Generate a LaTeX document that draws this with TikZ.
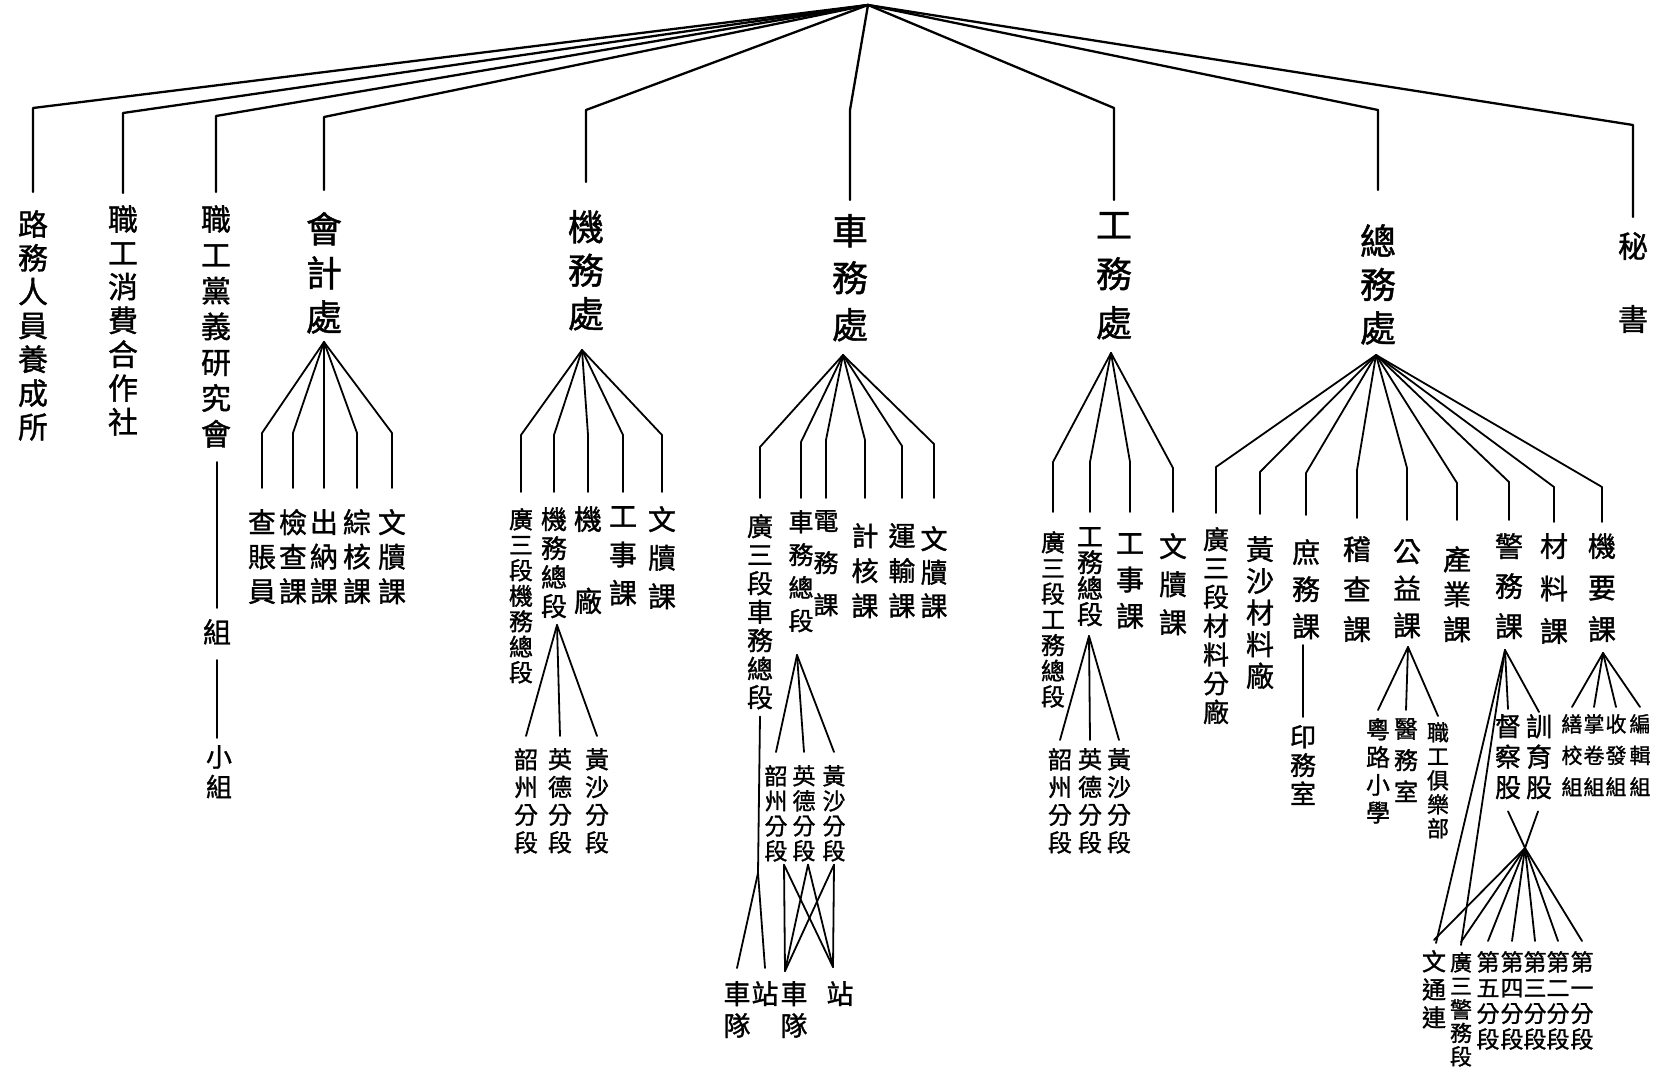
\documentclass[tikz,border=0pt]{standalone}
\usepackage{fontspec}
\newfontfamily\cjk{Noto Sans CJK TC}[FakeBold=1.2]
\tikzset{
  v/.style 2 args={font=\cjk\fontsize{#1}{#2}\selectfont, align=center, inner sep=0pt, anchor=north},
  mainln/.style={line width=2.3pt, line join=round, line cap=round},
  ln/.style={line width=1.8pt, line join=round, line cap=round},
}
\begin{document}
\begin{tikzpicture}[x=1pt,y=-1pt]
\useasboundingbox[fill=white] (0,0) rectangle (1664,1075);
\coordinate (root) at (868,5);
% ---------- top level labels
\node[v={30}{33.8}] (t1) at (33,210) {路\\務\\人\\員\\養\\成\\所};
\node[v={30}{33.8}] (t2) at (123,205) {職\\工\\消\\費\\合\\作\\社};
\node[v={30}{35.8}] (t3) at (216,205) {職\\工\\黨\\義\\研\\究\\會};
\node[v={36}{44}] (d4) at (324,212) {會\\計\\處};
\node[v={36}{43.5}] (d5) at (586,210) {機\\務\\處};
\node[v={36}{47}] (d6) at (850,214) {車\\務\\處};
\node[v={36}{49}] (d7) at (1114,212) {工\\務\\處};
\node[v={36}{43.5}] (d8) at (1378,224) {總\\務\\處};
\node[v={30}{73}] (t9) at (1633,232) {秘\\書};
% ---------- top level connectors
\draw[mainln] (root) -- (t1.north |- 0,108) -- (t1.north |- 0,192);
\draw[mainln] (root) -- (t2.north |- 0,113) -- (t2.north |- 0,193);
\draw[mainln] (root) -- (t3.north |- 0,116) -- (t3.north |- 0,192);
\draw[mainln] (root) -- (d4.north |- 0,117) -- (d4.north |- 0,190);
\draw[mainln] (root) -- (d5.north |- 0,110) -- (d5.north |- 0,182);
\draw[mainln] (root) -- (d6.north |- 0,110) -- (d6.north |- 0,200);
\draw[mainln] (root) -- (d7.north |- 0,108) -- (d7.north |- 0,200);
\draw[mainln] (root) -- (d8.north |- 0,110) -- (d8.north |- 0,190);
\draw[mainln] (root) -- (t9.north |- 0,125) -- (t9.north |- 0,217);
% ---------- 職工黨義研究會 -> 組 -> 小組
\node[v={28}{28}] (k1) at (217,619) {組};
\node[v={26}{30}] (k2) at (219,745) {小\\組};
\draw[ln] (k1.north |- 0,462) -- (k1.north |- 0,608);
\draw[ln] (k1.south |- 0,660) -- (k1.south |- 0,738);
% ---------- 會計處
\coordinate (a4) at (324,342);
\node[v={28}{34.5}] (c41) at (262,509) {查\\賬\\員};
\node[v={28}{34.5}] (c42) at (293,509) {檢\\查\\課};
\node[v={28}{34.5}] (c43) at (324,509) {出\\納\\課};
\node[v={28}{34.5}] (c44) at (357,509) {綜\\核\\課};
\node[v={28}{34.5}] (c45) at (392,509) {文\\牘\\課};
\foreach \n in {c41,c42,c43,c44,c45}
  \draw[ln] (a4) -- (\n.north |- 0,433) -- (\n.north |- 0,488);
% ---------- 機務處
\coordinate (a5) at (582,350);
\node[v={24}{25.5}] (c51) at (521,508) {廣\\三\\段\\機\\務\\總\\段};
\node[v={26}{29}] (c52) at (554,507) {機\\務\\總\\段};
\node[v={28}{82}] (c53) at (588,506) {機\\廠};
\node[v={28}{38.5}] (c54) at (623,506) {工\\事\\課};
\node[v={28}{38.5}] (c55) at (662,506) {文\\牘\\課};
\foreach \n in {c51,c52,c53,c54,c55}
  \draw[ln] (a5) -- (\n.north |- 0,435) -- (\n.north |- 0,492);
\coordinate (s5) at (557,625);
\node[v={24}{27.7}] (e51) at (526,748) {韶\\州\\分\\段};
\node[v={24}{27.7}] (e52) at (560,748) {英\\德\\分\\段};
\node[v={24}{27.7}] (e53) at (597,748) {黃\\沙\\分\\段};
\foreach \n in {e51,e52,e53}
  \draw[ln] (s5) -- (\n.north |- 0,736);
% ---------- 車務處
\coordinate (a6) at (843,355);
\node[v={26}{28.5}] (c61) at (760,514) {廣\\三\\段\\車\\務\\總\\段};
\node[v={25}{33}] (c62) at (801,510) {車\\務\\總\\段};
\node[v={25}{42}] (c63) at (826,510) {電\\務\\課};
\node[v={27}{35}] (c64) at (865,523) {計\\核\\課};
\node[v={27}{35}] (c65) at (902,523) {運\\輸\\課};
\node[v={27}{33.5}] (c66) at (934,526) {文\\牘\\課};
\draw[ln] (a6) -- (c61.north |- 0,447) -- (c61.north |- 0,498);
\draw[ln] (a6) -- (c62.north |- 0,442) -- (c62.north |- 0,498);
\draw[ln] (a6) -- (c63.north |- 0,440) -- (c63.north |- 0,498);
\draw[ln] (a6) -- (c64.north |- 0,440) -- (c64.north |- 0,498);
\draw[ln] (a6) -- (c65.north |- 0,446) -- (c65.north |- 0,498);
\draw[ln] (a6) -- (c66.north |- 0,444) -- (c66.north |- 0,498);
\coordinate (s6) at (797,655);
\node[v={23}{25}] (e61) at (776,765) {韶\\州\\分\\段};
\node[v={23}{25}] (e62) at (804,765) {英\\德\\分\\段};
\node[v={23}{25}] (e63) at (834,765) {黃\\沙\\分\\段};
\foreach \n in {e61,e62,e63}
  \draw[ln] (s6) -- (\n.north |- 0,752);
\node[v={27}{32}] (f61) at (737,981) {車\\隊};
\node[v={27}{32}] (f62) at (765,981) {站};
\node[v={27}{32}] (f63) at (794,981) {車\\隊};
\node[v={27}{32}] (f64) at (840,981) {站};
\coordinate (x1) at (758,873);
\draw[ln] ([yshift=-7pt]c61.south) -- (x1);
\draw[ln] (x1) -- ([yshift=13pt]f61.north);
\draw[ln] (x1) -- ([yshift=13pt]f62.north);
\coordinate (g1) at ([xshift=8pt,yshift=-3pt]e61.south);
\coordinate (g2) at ([xshift=4pt,yshift=-3pt]e62.south);
\coordinate (g3) at ([xshift=0pt,yshift=-3pt]e63.south);
\coordinate (h61) at ([xshift=-9pt,yshift=10pt]f63.north);
\coordinate (h62) at ([xshift=-7pt,yshift=14pt]f64.north);
\foreach \g in {g1,g2,g3} {
  \draw[ln] (\g) -- (h61);
  \draw[ln] (\g) -- (h62);
}
% ---------- 工務處
\coordinate (a7) at (1111,353);
\node[v={24}{25.7}] (c71) at (1053,531) {廣\\三\\段\\工\\務\\總\\段};
\node[v={26}{26}] (c72) at (1090,527) {工\\務\\總\\段};
\node[v={28}{36.5}] (c73) at (1130,533) {工\\事\\課};
\node[v={28}{38}] (c74) at (1173,533) {文\\牘\\課};
\draw[ln] (a7) -- (c71.north |- 0,462) -- (c71.north |- 0,512);
\draw[ln] (a7) -- (c72.north |- 0,462) -- (c72.north |- 0,512);
\draw[ln] (a7) -- (c73.north |- 0,462) -- (c73.north |- 0,512);
\draw[ln] (a7) -- (c74.north |- 0,468) -- (c74.north |- 0,512);
\coordinate (s7) at (1089,636);
\node[v={24}{27.7}] (e71) at (1060,748) {韶\\州\\分\\段};
\node[v={24}{27.7}] (e72) at (1090,748) {英\\德\\分\\段};
\node[v={24}{27.7}] (e73) at (1119,748) {黃\\沙\\分\\段};
\foreach \n in {e71,e72,e73}
  \draw[ln] (s7) -- (\n.north |- 0,740);
% ---------- 總務處
\coordinate (a8) at (1376,355);
\node[v={26}{28.8}] (c81) at (1216,527) {廣\\三\\段\\材\\料\\分\\廠};
\node[v={28}{31.7}] (c82) at (1260,536) {黃\\沙\\材\\料\\廠};
\node[v={28}{37}] (c83) at (1306,539) {庶\\務\\課};
\node[v={28}{40}] (c84) at (1357,536) {稽\\查\\課};
\node[v={28}{37}] (c85) at (1407,539) {公\\益\\課};
\node[v={28}{35}] (c86) at (1457,546) {產\\業\\課};
\node[v={28}{40}] (c87) at (1509,533) {警\\務\\課};
\node[v={28}{42.5}] (c88) at (1554,533) {材\\料\\課};
\node[v={28}{41.5}] (c89) at (1602,533) {機\\要\\課};
\draw[ln] (a8) -- (c81.north |- 0,467) -- (c81.north |- 0,513);
\draw[ln] (a8) -- (c82.north |- 0,472) -- (c82.north |- 0,514);
\draw[ln] (a8) -- (c83.north |- 0,473) -- (c83.north |- 0,515);
\draw[ln] (a8) -- (c84.north |- 0,470) -- (c84.north |- 0,518);
\draw[ln] (a8) -- (c85.north |- 0,468) -- (c85.north |- 0,520);
\draw[ln] (a8) -- (c86.north |- 0,483) -- (c86.north |- 0,520);
\draw[ln] (a8) -- (c87.north |- 0,482) -- (c87.north |- 0,520);
\draw[ln] (a8) -- (c88.north |- 0,487) -- (c88.north |- 0,522);
\draw[ln] (a8) -- (c89.north |- 0,487) -- (c89.north |- 0,522);
% 庶務課 -> 印務室
\node[v={26}{28.5}] (e83) at (1303,725) {印\\務\\室};
\draw[ln] (e83.north |- 0,645) -- (e83.north |- 0,717);
% 公益課
\coordinate (s85) at (1408,647);
\node[v={24}{27.7}] (e851) at (1378,718) {粵\\路\\小\\學};
\node[v={24}{31.5}] (e852) at (1406,718) {醫\\務\\室};
\node[v={22}{24}] (e853) at (1438,722) {職\\工\\俱\\樂\\部};
\draw[ln] (s85) -- ([yshift=8pt]e851.north);
\draw[ln] (s85) -- ([yshift=8pt]e852.north);
\draw[ln] (s85) -- ([yshift=6pt]e853.north);
% 警務課
\coordinate (s87) at (1505,650);
\node[v={26}{30.5}] (e871) at (1508,714) {督\\察\\股};
\node[v={26}{30.5}] (e872) at (1539,714) {訓\\育\\股};
\draw[ln] (s87) -- ([yshift=5pt]e871.north);
\draw[ln] (s87) -- ([yshift=2pt]e872.north);
\node[v={24}{28}] (h1) at (1434,950) {文\\通\\連};
\node[v={22}{23.5}] (h2) at (1461,952) {廣\\三\\警\\務\\段};
\node[v={23}{25.7}] (h3) at (1488,951) {第\\五\\分\\段};
\node[v={23}{25.7}] (h4) at (1512,951) {第\\四\\分\\段};
\node[v={23}{25.7}] (h5) at (1535,951) {第\\三\\分\\段};
\node[v={23}{25.7}] (h6) at (1558,951) {第\\二\\分\\段};
\node[v={23}{25.7}] (h7) at (1582,951) {第\\一\\分\\段};
\draw[ln] (s87) -- ([xshift=2pt,yshift=7pt]h1.north);
\draw[ln] (s87) -- ([yshift=7pt]h2.north);
\coordinate (x2) at (1525,848);
\draw[ln] ([yshift=-12pt]e871.south) -- (x2);
\draw[ln] ([xshift=-1pt,yshift=-12pt]e872.south) -- (x2);
\foreach \n in {h1,h2,h3,h4,h5,h6,h7}
  \draw[ln] (x2) -- ([yshift=10pt]\n.north);
% 機要課
\coordinate (s89) at (1603,653);
\node[v={21}{31.5}] (e891) at (1572,714) {繕\\校\\組};
\node[v={21}{31.5}] (e892) at (1594,714) {掌\\卷\\組};
\node[v={21}{31.5}] (e893) at (1616,714) {收\\發\\組};
\node[v={21}{31.5}] (e894) at (1640,714) {編\\輯\\組};
\foreach \n in {e891,e892,e893,e894}
  \draw[ln] (s89) -- ([yshift=7pt]\n.north);
\end{tikzpicture}
\end{document}
